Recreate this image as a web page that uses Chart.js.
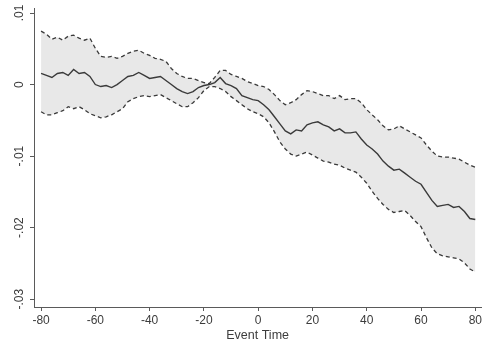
<!DOCTYPE html>
<html>
<head>
<meta charset="utf-8">
<script src="https://cdn.jsdelivr.net/npm/chart.js@4/dist/chart.umd.min.js"></script>
<style>
  html, body { margin: 0; padding: 0; background: #fff; }
  #wrap { width: 484px; height: 343px; }
</style>
</head>
<body>
<div id="wrap"><canvas id="chart"></canvas></div>
<script>
// event time (x) and the three series
const eventTime = [-80, -78, -76, -74, -72, -70, -68, -66, -64, -62, -60, -58, -56, -54, -52, -50,
  -48, -46, -44, -42, -40, -38, -36, -34, -32, -30, -28, -26, -24, -22, -20, -18, -16, -14, -12,
  -10, -8, -6, -4, -2, 0, 2, 4, 6, 8, 10, 12, 14, 16, 18, 20, 22, 24, 26, 28, 30, 32, 34, 36, 38,
  40, 42, 44, 46, 48, 50, 52, 54, 56, 58, 60, 62, 64, 66, 68, 70, 72, 74, 76, 78, 80];

const estimate = [.00155, .00127, .00099, .00155, .00169, .00127, .00211, .00155, .00169, .00113,
  0, -.00028, -.00014, -.00042, 0, .00056, .00113, .00127, .00169, .00127,
  .00085, .00099, .00113, .00056, 0, -.00056, -.00099, -.00127, -.00099, -.00042,
  -.00014, 0, .00028, .00099, .00014, -.00014, -.00056, -.00155, -.00183, -.00211,
  -.00225, -.00282, -.00352, -.00451, -.00549, -.00648, -.00690, -.00634, -.00648, -.00563,
  -.00535, -.00521, -.00563, -.00592, -.00648, -.00620, -.00676, -.00676, -.00662, -.00761,
  -.00845, -.00901, -.00972, -.01070, -.01141, -.01197, -.01183, -.01239, -.01296, -.01352,
  -.01394, -.01507, -.01620, -.01704, -.01690, -.01676, -.01718, -.01704, -.01775, -.01873,
  -.01887];

const upperCI = [.00746, .00704, .00634, .00662, .00620, .00676, .00690, .00648, .00620, .00648,
  .00507, .00394, .00380, .00394, .00366, .00394, .00437, .00465, .00479, .00437,
  .00408, .00366, .00352, .00324, .00225, .00155, .00113, .00085, .00085, .00056,
  .00028, .00014, .00099, .00197, .00197, .00141, .00113, .00085, .00042, .00014,
  -.00014, -.00028, -.00070, -.00141, -.00225, -.00282, -.00254, -.00211, -.00141, -.00085,
  -.00099, -.00127, -.00155, -.00155, -.00197, -.00155, -.00211, -.00197, -.00197, -.00254,
  -.00352, -.00423, -.00493, -.00577, -.00634, -.00620, -.00577, -.00620, -.00662, -.00704,
  -.00746, -.00845, -.00930, -.01000, -.01014, -.01014, -.01028, -.01042, -.01085, -.01127,
  -.01155];

const lowerCI = [-.00380, -.00423, -.00423, -.00394, -.00366, -.00310, -.00338, -.00310, -.00352, -.00408,
  -.00437, -.00465, -.00451, -.00423, -.00380, -.00338, -.00239, -.00197, -.00169, -.00155,
  -.00169, -.00155, -.00141, -.00183, -.00225, -.00268, -.00310, -.00310, -.00254, -.00183,
  -.00085, -.00028, -.00028, -.00056, -.00099, -.00169, -.00225, -.00282, -.00338, -.00380,
  -.00408, -.00451, -.00535, -.00662, -.00803, -.00901, -.00972, -.01000, -.00972, -.00944,
  -.00986, -.01028, -.01070, -.01085, -.01113, -.01127, -.01169, -.01197, -.01225, -.01296,
  -.01380, -.01493, -.01592, -.01676, -.01746, -.01789, -.01775, -.01761, -.01831, -.01916,
  -.01986, -.02141, -.02282, -.02366, -.02394, -.02408, -.02423, -.02437, -.02493, -.02578,
  -.02620];

const xTicks = [-80, -60, -40, -20, 0, 20, 40, 60, 80];
const yTicks = [-.03, -.02, -.01, 0, .01];

const toPoints = arr => arr.map((v, i) => ({ x: eventTime[i], y: v }));

const lineColor = '#3a3a3a';
const axisColor = '#5a5a5a';
const textColor = '#3c3c3c';
const fontFamily = 'Liberation Sans, Arial, sans-serif';

new Chart(document.getElementById('chart'), {
  type: 'line',
  data: {
    datasets: [
      {
        label: 'upper',
        data: toPoints(upperCI),
        borderColor: lineColor,
        borderWidth: 1.3,
        borderDash: [4, 3],
        backgroundColor: '#e8e8e8',
        fill: '+1',
        pointRadius: 0,
        tension: 0,
        order: 3
      },
      {
        label: 'lower',
        data: toPoints(lowerCI),
        borderColor: lineColor,
        borderWidth: 1.3,
        borderDash: [4, 3],
        fill: false,
        pointRadius: 0,
        tension: 0,
        order: 2
      },
      {
        label: 'estimate',
        data: toPoints(estimate),
        borderColor: lineColor,
        borderWidth: 1.4,
        fill: false,
        pointRadius: 0,
        tension: 0,
        order: 1
      }
    ]
  },
  options: {
    responsive: true,
    maintainAspectRatio: false,
    animation: false,
    layout: { padding: { top: 8, right: 2, left: 0, bottom: 0 } },
    plugins: {
      legend: { display: false },
      tooltip: { enabled: false }
    },
    scales: {
      x: {
        type: 'linear',
        min: -82.6,
        max: 82.2,
        afterBuildTicks: scale => { scale.ticks = xTicks.map(v => ({ value: v })); },
        afterFit: scale => { scale.height = 36; },
        border: { color: axisColor, width: 1 },
        grid: { display: true, drawOnChartArea: false, drawTicks: true, tickLength: 4, color: axisColor },
        ticks: {
          color: textColor,
          font: { family: fontFamily, size: 12 },
          padding: 2,
          maxRotation: 0
        },
        title: {
          display: true,
          text: 'Event Time',
          color: textColor,
          font: { family: fontFamily, size: 12.5 },
          padding: { top: -3, bottom: 0 }
        }
      },
      y: {
        type: 'linear',
        min: -0.0311,
        max: 0.0107,
        afterBuildTicks: scale => { scale.ticks = yTicks.map(v => ({ value: v })); },
        afterFit: scale => { scale.width = 34; },
        border: { color: axisColor, width: 1 },
        grid: { display: true, drawOnChartArea: false, drawTicks: true, tickLength: 4, color: axisColor },
        ticks: {
          color: textColor,
          font: { family: fontFamily, size: 12 },
          padding: 0,
          crossAlign: 'center',
          minRotation: 90,
          maxRotation: 90,
          callback: v => v === 0 ? '0' : String(Math.round(v * 100) / 100).replace('0.', '.')
        }
      }
    }
  }
});
</script>
</body>
</html>
